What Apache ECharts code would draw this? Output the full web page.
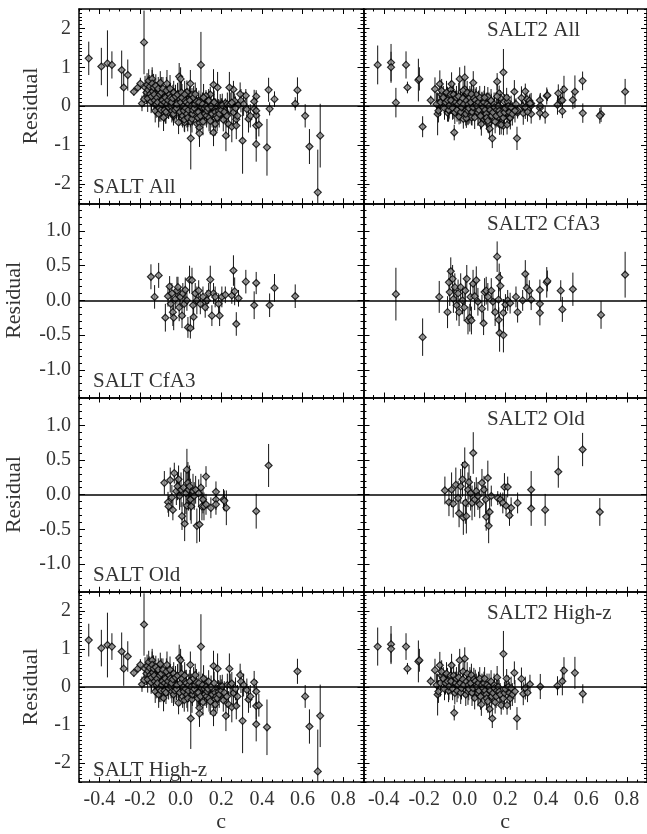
<!DOCTYPE html>
<html><head><meta charset="utf-8">
<script src="https://cdn.jsdelivr.net/npm/echarts@6/dist/echarts.min.js"></script>
<style>html,body{margin:0;padding:0;background:#fff}#c{width:647px;height:834px}</style>
</head><body><div id="c"></div>
<script>
// Each point: [colour c, Hubble residual, error]
const saltCfA3 = [[-0.146,0.34,0.18],[-0.128,0.05,0.17],[-0.108,0.36,0.18],[-0.075,-0.25,0.2],[-0.062,0.06,0.15],[-0.054,0.2,0.15],[-0.048,-0.05,0.18],[-0.043,0.1,0.15],[-0.038,-0.17,0.2],[-0.034,-0.25,0.18],[-0.026,0.02,0.15],[-0.018,0.14,0.2],[-0.013,0.19,0.15],[-0.007,-0.1,0.2],[-0.002,0.05,0.15],[0.007,-0.22,0.18],[0.011,0.1,0.15],[0.018,-0.05,0.2],[0.023,0.15,0.18],[0.031,0.0,0.15],[0.036,-0.39,0.15],[0.044,0.3,0.2],[0.048,-0.4,0.15],[0.056,0.29,0.18],[0.061,-0.07,0.2],[0.064,-0.24,0.18],[0.072,0.1,0.15],[0.08,0.0,0.2],[0.089,0.14,0.15],[0.097,-0.05,0.15],[0.11,0.05,0.15],[0.121,-0.1,0.15],[0.13,0.0,0.15],[0.138,0.1,0.15],[0.146,0.3,0.2],[0.154,-0.22,0.15],[0.162,0.1,0.15],[0.17,0.05,0.15],[0.187,-0.05,0.15],[0.192,-0.22,0.15],[0.203,0.05,0.15],[0.22,0.08,0.12],[0.252,0.07,0.12],[0.26,0.43,0.22],[0.266,0.13,0.2],[0.274,-0.34,0.17],[0.285,0.03,0.12],[0.321,0.27,0.17],[0.362,-0.07,0.2],[0.372,0.25,0.16],[0.438,-0.07,0.17],[0.462,0.18,0.2],[0.564,0.06,0.17]];

const salt2CfA3 = [[-0.34,0.09,0.38],[-0.208,-0.53,0.27],[-0.126,0.05,0.23],[-0.085,-0.17,0.23],[-0.078,0.26,0.2],[-0.074,0.12,0.2],[-0.069,0.42,0.2],[-0.06,0.31,0.2],[-0.056,0.02,0.2],[-0.049,0.19,0.2],[-0.04,-0.07,0.22],[-0.033,0.1,0.2],[-0.028,-0.17,0.2],[-0.02,0.19,0.2],[-0.011,0.0,0.2],[-0.003,-0.1,0.2],[0.003,0.14,0.2],[0.01,0.31,0.2],[0.016,-0.29,0.2],[0.025,-0.25,0.2],[0.028,0.05,0.2],[0.033,-0.29,0.2],[0.041,0.24,0.2],[0.049,0.06,0.2],[0.057,0.29,0.2],[0.065,-0.02,0.2],[0.085,-0.12,0.2],[0.093,-0.33,0.17],[0.098,0.12,0.2],[0.106,0.14,0.2],[0.114,0.05,0.2],[0.131,0.14,0.18],[0.139,-0.02,0.18],[0.15,-0.17,0.2],[0.16,0.63,0.22],[0.167,0.01,0.2],[0.168,-0.28,0.18],[0.17,0.33,0.2],[0.172,-0.47,0.27],[0.176,0.21,0.2],[0.191,-0.5,0.25],[0.191,-0.18,0.2],[0.201,-0.06,0.15],[0.212,0.0,0.15],[0.224,-0.04,0.15],[0.253,0.05,0.15],[0.261,-0.17,0.15],[0.286,0.0,0.15],[0.299,0.38,0.2],[0.307,0.18,0.2],[0.319,0.14,0.15],[0.328,0.01,0.15],[0.371,-0.05,0.15],[0.371,0.15,0.15],[0.371,-0.18,0.18],[0.405,0.26,0.22],[0.408,0.28,0.15],[0.474,0.14,0.15],[0.482,-0.13,0.18],[0.534,0.16,0.24],[0.673,-0.21,0.2],[0.792,0.37,0.33]];

const saltOld = [[-0.08,0.17,0.17],[-0.062,-0.11,0.15],[-0.059,-0.17,0.15],[-0.051,0.21,0.18],[-0.043,-0.04,0.18],[-0.038,-0.22,0.15],[-0.031,0.31,0.15],[-0.021,0.05,0.2],[-0.015,0.12,0.2],[-0.01,0.22,0.2],[-0.005,-0.02,0.2],[0.002,0.07,0.25],[0.007,-0.31,0.2],[0.015,0.1,0.25],[0.02,-0.42,0.25],[0.026,0.02,0.3],[0.031,0.36,0.3],[0.031,-0.16,0.25],[0.036,0.17,0.3],[0.039,0.07,0.3],[0.044,0.12,0.3],[0.048,-0.07,0.3],[0.052,-0.17,0.25],[0.061,0.05,0.25],[0.067,-0.02,0.2],[0.074,0.07,0.2],[0.08,-0.45,0.25],[0.089,0.02,0.2],[0.093,-0.43,0.25],[0.1,0.1,0.2],[0.105,-0.17,0.2],[0.11,-0.07,0.2],[0.115,-0.17,0.2],[0.125,0.26,0.15],[0.125,-0.14,0.15],[0.149,-0.19,0.15],[0.174,0.04,0.15],[0.174,-0.07,0.15],[0.174,-0.14,0.15],[0.211,-0.07,0.15],[0.215,-0.09,0.15],[0.225,-0.19,0.25],[0.372,-0.24,0.25],[0.433,0.42,0.31]];

const salt2Old = [[-0.098,0.06,0.2],[-0.078,-0.11,0.2],[-0.065,0.07,0.25],[-0.057,-0.13,0.2],[-0.044,0.14,0.25],[-0.033,-0.05,0.25],[-0.028,-0.27,0.2],[-0.02,0.12,0.25],[-0.011,0.22,0.25],[-0.007,-0.33,0.25],[0.0,0.43,0.25],[0.003,-0.12,0.3],[0.008,-0.31,0.25],[0.016,0.07,0.25],[0.021,0.18,0.25],[0.029,0.02,0.25],[0.036,-0.12,0.25],[0.042,0.6,0.3],[0.049,-0.07,0.25],[0.057,0.05,0.2],[0.065,-0.02,0.2],[0.074,-0.14,0.2],[0.085,0.17,0.2],[0.095,0.07,0.2],[0.103,-0.07,0.2],[0.106,-0.32,0.2],[0.114,0.24,0.25],[0.118,-0.45,0.25],[0.123,-0.25,0.2],[0.131,-0.02,0.15],[0.163,-0.05,0.1],[0.176,-0.07,0.1],[0.188,-0.12,0.15],[0.196,0.11,0.2],[0.204,-0.16,0.15],[0.212,0.11,0.15],[0.221,-0.3,0.15],[0.229,-0.19,0.15],[0.261,-0.12,0.15],[0.328,0.07,0.27],[0.328,-0.2,0.25],[0.397,-0.22,0.23],[0.462,0.33,0.23],[0.582,0.65,0.24],[0.667,-0.25,0.2]];

const saltHighZ = [[-0.452,1.23,0.43],[-0.39,1.02,0.48],[-0.36,1.1,0.85],[-0.338,1.06,0.35],[-0.29,0.93,0.5],[-0.28,0.48,0.45],[-0.26,0.8,0.4],[-0.23,0.37,0.1],[-0.21,0.48,0.1],[-0.198,0.58,0.15],[-0.19,0.07,0.2],[-0.18,1.64,0.82],[-0.18,0.18,0.2],[-0.175,0.48,0.3],[-0.168,0.35,0.3],[-0.165,0.55,0.3],[-0.162,0.2,0.35],[-0.16,0.42,0.35],[-0.157,0.65,0.3],[-0.152,0.5,0.3],[-0.15,0.31,0.3],[-0.145,0.12,0.3],[-0.143,0.25,0.35],[-0.14,0.7,0.3],[-0.14,0.58,0.35],[-0.137,0.38,0.3],[-0.133,0.48,0.35],[-0.13,0.3,0.4],[-0.128,0.15,0.35],[-0.125,-0.12,0.3],[-0.122,0.52,0.3],[-0.12,0.05,0.35],[-0.116,0.22,0.4],[-0.113,0.1,0.3],[-0.11,0.45,0.3],[-0.108,-0.2,0.35],[-0.105,-0.05,0.35],[-0.103,0.3,0.35],[-0.1,0.6,0.3],[-0.097,-0.1,0.3],[-0.095,0.35,0.4],[-0.092,0.05,0.4],[-0.09,0.15,0.3],[-0.087,0.45,0.3],[-0.084,-0.29,0.35],[-0.08,-0.1,0.3],[-0.078,0.1,0.35],[-0.075,0.22,0.3],[-0.072,-0.15,0.3],[-0.07,0.4,0.35],[-0.067,0.58,0.35],[-0.065,0.05,0.3],[-0.062,0.15,0.3],[-0.059,-0.03,0.3],[-0.055,0.3,0.3],[-0.052,0.45,0.35],[-0.05,0.22,0.35],[-0.047,0.0,0.3],[-0.045,0.1,0.35],[-0.043,-0.12,0.3],[-0.038,0.2,0.35],[-0.035,-0.2,0.3],[-0.034,0.35,0.3],[-0.028,-0.1,0.3],[-0.025,0.25,0.3],[-0.02,-0.05,0.3],[-0.018,0.05,0.35],[-0.015,0.3,0.3],[-0.01,-0.42,0.3],[-0.007,0.76,0.35],[-0.004,-0.15,0.35],[0.0,0.7,0.3],[0.0,0.1,0.35],[0.004,0.35,0.3],[0.007,0.22,0.35],[0.01,-0.25,0.3],[0.013,0.0,0.3],[0.015,-0.12,0.3],[0.018,-0.35,0.3],[0.02,0.3,0.35],[0.023,0.14,0.3],[0.025,-0.05,0.3],[0.028,0.1,0.35],[0.031,-0.2,0.35],[0.035,-0.3,0.35],[0.038,-0.1,0.3],[0.04,0.05,0.3],[0.045,0.15,0.3],[0.048,0.58,0.35],[0.05,-0.83,0.8],[0.052,0.0,0.35],[0.056,-0.33,0.35],[0.058,-0.2,0.3],[0.06,-0.1,0.3],[0.064,0.22,0.3],[0.068,-0.05,0.3],[0.07,0.05,0.35],[0.072,0.31,0.3],[0.078,0.12,0.35],[0.08,-0.16,0.35],[0.085,-0.3,0.3],[0.088,-0.15,0.3],[0.09,0.1,0.3],[0.092,-0.55,0.3],[0.093,-0.7,0.35],[0.098,-0.25,0.35],[0.1,1.06,0.85],[0.105,-0.03,0.3],[0.108,0.05,0.3],[0.11,-0.4,0.35],[0.113,0.22,0.35],[0.118,-0.05,0.35],[0.12,-0.2,0.3],[0.125,0.0,0.3],[0.128,-0.25,0.3],[0.13,-0.12,0.35],[0.135,-0.05,0.3],[0.138,0.14,0.3],[0.14,-0.3,0.35],[0.146,-0.38,0.35],[0.15,0.0,0.3],[0.155,-0.2,0.35],[0.162,-0.68,0.35],[0.162,0.55,0.4],[0.165,0.1,0.3],[0.17,-0.46,0.3],[0.17,-0.15,0.3],[0.175,-0.25,0.3],[0.18,-0.3,0.35],[0.182,0.48,0.4],[0.187,-0.12,0.3],[0.19,-0.2,0.35],[0.195,0.01,0.3],[0.2,-0.1,0.3],[0.205,0.02,0.3],[0.21,-0.35,0.3],[0.215,-0.15,0.3],[0.223,-0.76,0.4],[0.228,-0.25,0.3],[0.23,0.05,0.3],[0.236,-0.46,0.35],[0.24,0.48,0.4],[0.244,0.05,0.3],[0.252,0.09,0.3],[0.252,-0.53,0.4],[0.26,-0.16,0.3],[0.27,-0.05,0.3],[0.274,-0.5,0.35],[0.28,-0.25,0.3],[0.293,0.31,0.3],[0.297,0.14,0.3],[0.305,-0.89,0.85],[0.31,0.05,0.3],[0.326,-0.08,0.3],[0.334,-0.33,0.35],[0.343,-0.25,0.3],[0.362,0.12,0.3],[0.372,-0.12,0.3],[0.372,-0.5,0.35],[0.372,-0.98,0.45],[0.385,-0.48,0.3],[0.425,-1.06,0.73],[0.575,0.41,0.33],[0.613,-0.25,0.3],[0.634,-1.04,0.45],[0.675,-2.22,1.1],[0.687,-0.76,0.82]];

const salt2HighZ = [[-0.43,1.06,0.5],[-0.364,1.12,0.48],[-0.364,1.0,0.4],[-0.29,1.06,0.35],[-0.283,0.48,0.15],[-0.229,0.67,0.55],[-0.224,0.7,0.3],[-0.168,0.15,0.12],[-0.147,0.44,0.3],[-0.139,0.05,0.3],[-0.134,-0.2,0.55],[-0.13,-0.12,0.3],[-0.123,0.57,0.35],[-0.12,0.1,0.35],[-0.115,0.3,0.3],[-0.114,0.4,0.3],[-0.106,0.22,0.3],[-0.1,-0.05,0.3],[-0.095,0.1,0.3],[-0.09,0.35,0.3],[-0.085,0.15,0.35],[-0.08,-0.1,0.3],[-0.078,0.01,0.35],[-0.07,0.3,0.35],[-0.068,0.15,0.35],[-0.065,0.57,0.3],[-0.06,-0.05,0.3],[-0.055,0.3,0.3],[-0.052,-0.68,0.2],[-0.049,-0.16,0.3],[-0.045,0.1,0.3],[-0.041,0.22,0.3],[-0.038,-0.1,0.3],[-0.033,0.05,0.35],[-0.03,0.25,0.35],[-0.025,0.7,0.3],[-0.022,0.1,0.35],[-0.02,-0.15,0.3],[-0.016,-0.03,0.3],[-0.01,0.2,0.3],[-0.008,0.4,0.3],[-0.005,0.05,0.3],[0.0,0.74,0.3],[0.005,-0.2,0.3],[0.008,0.14,0.3],[0.012,0.35,0.3],[0.016,-0.12,0.35],[0.018,0.05,0.3],[0.02,-0.05,0.3],[0.025,0.22,0.3],[0.03,0.1,0.35],[0.033,0.31,0.3],[0.036,-0.15,0.35],[0.041,-0.03,0.35],[0.045,0.2,0.3],[0.049,-0.29,0.3],[0.052,0.15,0.3],[0.057,0.05,0.3],[0.06,0.0,0.3],[0.065,-0.16,0.35],[0.068,0.1,0.3],[0.07,-0.1,0.35],[0.074,0.22,0.3],[0.078,-0.25,0.35],[0.082,-0.46,0.3],[0.085,0.05,0.3],[0.09,-0.03,0.35],[0.095,0.1,0.3],[0.098,0.22,0.3],[0.1,-0.1,0.35],[0.106,-0.2,0.3],[0.108,-0.3,0.3],[0.11,0.05,0.3],[0.114,-0.38,0.3],[0.12,0.0,0.35],[0.123,-0.58,0.25],[0.125,-0.1,0.3],[0.13,0.14,0.3],[0.133,-0.25,0.3],[0.136,-0.83,0.25],[0.139,-0.16,0.3],[0.145,0.05,0.3],[0.147,-0.03,0.3],[0.15,-0.4,0.3],[0.155,-0.25,0.3],[0.158,-0.1,0.3],[0.16,0.25,0.3],[0.165,0.0,0.3],[0.17,-0.12,0.3],[0.175,-0.2,0.3],[0.18,-0.48,0.25],[0.19,-0.3,0.3],[0.191,0.87,0.6],[0.196,-0.16,0.3],[0.2,-0.05,0.3],[0.207,0.22,0.25],[0.209,-0.48,0.25],[0.215,0.0,0.3],[0.22,-0.16,0.3],[0.225,-0.3,0.3],[0.229,-0.03,0.3],[0.235,-0.2,0.3],[0.245,0.37,0.3],[0.248,-0.12,0.3],[0.258,-0.83,0.3],[0.28,0.21,0.3],[0.289,-0.18,0.3],[0.299,-0.03,0.3],[0.31,-0.15,0.25],[0.322,0.07,0.25],[0.373,0.01,0.33],[0.458,0.03,0.25],[0.482,0.15,0.37],[0.49,0.43,0.35],[0.544,0.37,0.42],[0.583,-0.18,0.25]];

// "All" = union of the three subsamples
const saltAll = saltCfA3.concat(saltOld, saltHighZ);
const salt2All = salt2CfA3.concat(salt2Old, salt2HighZ);

const panelTitles = ['SALT All','SALT2 All','SALT CfA3','SALT2 CfA3','SALT Old','SALT2 Old','SALT High-z','SALT2 High-z'];
const xTickLabels = [-0.4,-0.2,0.0,0.2,0.4,0.6,0.8];
const yTicksWide = [-2,-1,0,1,2];
const yTicksNarrow = [-1.0,-0.5,0.0,0.5,1.0];

function range(a,b,step){const out=[];for(let k=a;k<=b;k++)out.push(+(k*step).toFixed(3));return out;}
const xMinor = range(-10,18,0.05);
const yMinorWide = range(-25,25,0.1);
const yMinorNarrow = range(-14,14,0.1);

const FONT = 'Liberation Serif';
const TXT = '#333';
const COLS = [{left:79,width:284.5},{left:363.5,width:285}];
const ROW_TOP = 9, ROW_H = 194.25;

const panelData = [saltAll, salt2All, saltCfA3, salt2CfA3, saltOld, salt2Old, saltHighZ, salt2HighZ];

function mkAxis(gi, position, min, max, values, len, withLine, withLabels, fmt, name, nameGap){
  return {
    type:'value', gridIndex:gi, position, min, max, silent:true,
    splitLine:{show:false}, minorTick:{show:false},
    axisLine:{show:withLine, onZero:false, lineStyle:{color:'#000', width:1.5}},
    axisTick:{show:true, inside:true, length:len, customValues:values, lineStyle:{color:'#000', width:1}},
    axisLabel:{show:withLabels, customValues:values, formatter:fmt, margin:8, color:TXT, fontFamily:FONT, fontSize:20},
    name: name||'', nameLocation:'middle', nameGap: nameGap||0,
    nameTextStyle:{fontFamily:FONT, fontSize:22, color:TXT}
  };
}

const grid=[], xAxis=[], yAxis=[], series=[], graphic=[];
panelData.forEach((arr,i)=>{
  const row = Math.floor(i/2), col = i%2;
  const top = ROW_TOP + row*ROW_H;
  grid.push({left:COLS[col].left, top:top, width:COLS[col].width, height:ROW_H});
  const wide = (row===0 || row===3);
  const ymax = wide ? 2.5 : 1.4;
  const yMaj = wide ? yTicksWide : yTicksNarrow;
  const yMin = wide ? yMinorWide : yMinorNarrow;
  const yFmt = wide ? (v=>String(Math.round(v))) : (v=>v.toFixed(1));
  const showX = row===3, showY = col===0;
  const xi = xAxis.length, yi = yAxis.length;
  xAxis.push(mkAxis(i,'bottom',-0.5,0.9,xTickLabels,5,true,showX,v=>v.toFixed(1),showX?'c':'',27));
  xAxis.push(mkAxis(i,'bottom',-0.5,0.9,xMinor,2.5,false,false));
  xAxis.push(mkAxis(i,'top',-0.5,0.9,xTickLabels,5,true,false));
  xAxis.push(mkAxis(i,'top',-0.5,0.9,xMinor,2.5,false,false));
  yAxis.push(mkAxis(i,'left',-ymax,ymax,yMaj,6,true,showY,yFmt,showY?'Residual':'',wide?37:54));
  yAxis.push(mkAxis(i,'left',-ymax,ymax,yMin,3,false,false));
  yAxis.push(mkAxis(i,'right',-ymax,ymax,yMaj,6,true,false));
  yAxis.push(mkAxis(i,'right',-ymax,ymax,yMin,3,false,false));

  series.push({
    type:'custom', xAxisIndex:xi, yAxisIndex:yi, clip:true, silent:true,
    data: arr.map(d=>[d[0], d[1]-d[2], d[1]+d[2]]),
    encode:{x:0, y:[1,2]},
    renderItem:function(params, api){
      const x = api.value(0);
      const a = api.coord([x, api.value(1)]), b = api.coord([x, api.value(2)]);
      return {type:'line', shape:{x1:a[0],y1:a[1],x2:b[0],y2:b[1]}, style:{stroke:'#151515', lineWidth:1}};
    },
    z:2
  });
  series.push({
    type:'scatter', xAxisIndex:xi, yAxisIndex:yi, silent:true,
    data: arr.map(d=>[d[0], d[1]]),
    symbol:'diamond', symbolSize:7,
    itemStyle:{color:'#8a8a8a', borderColor:'#000', borderWidth:1.2},
    z:3,
    markLine:{silent:true, symbol:['none','none'], label:{show:false},
      lineStyle:{color:'#000', width:1.5, type:'solid'}, data:[{yAxis:0}]}
  });

  const fs = 21;
  if (col===0) {
    graphic.push({type:'text', x:93, y: top+ROW_H-16, style:{text:panelTitles[i], font:fs+'px '+FONT, fill:TXT, verticalAlign:'middle', align:'left'}});
  } else {
    graphic.push({type:'text', x:487, y: top+21.5, style:{text:panelTitles[i], font:fs+'px '+FONT, fill:TXT, verticalAlign:'middle', align:'left'}});
  }
});

const chart = echarts.init(document.getElementById('c'));
chart.setOption({animation:false, backgroundColor:'#fff', grid, xAxis, yAxis, series, graphic});
</script></body></html>
